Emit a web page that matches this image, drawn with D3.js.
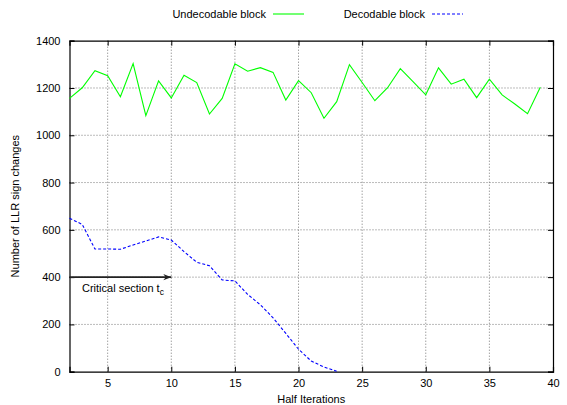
<!DOCTYPE html>
<html>
<head>
<meta charset="utf-8">
<script src="https://cdn.jsdelivr.net/npm/d3@7"></script>
<style>
  html, body { margin: 0; padding: 0; background: #fff; }
  svg { display: block; }
  text { font-family: "Liberation Sans", Arial, sans-serif; }
</style>
</head>
<body>
<svg id="chart" width="567" height="405"></svg>
<script>
const xValues = [2,3,4,5,6,7,8,9,10,11,12,13,14,15,16,17,18,19,20,21,22,23,24,25,26,27,28,29,30,31,32,33,34,35,36,37,38,39];
const undecodable = [1156,1201,1273,1252,1163,1303,1083,1230,1158,1254,1223,1090,1156,1302,1271,1286,1266,1149,1231,1180,1072,1142,1299,1223,1146,1201,1282,1227,1171,1285,1216,1237,1159,1237,1171,1132,1091,1203];
const decodableX = [2,3,4,5,6,7,8,9,10,11,12,13,14,15,16,17,18,19,20,21,22,23];
const decodable = [649,623,519,519,518,536,553,570,557,508,463,448,388,384,327,283,228,162,95,45,20,2];
const xTicks = [5,10,15,20,25,30,35,40];
const yTicks = [0,200,400,600,800,1000,1200,1400];
const seriesNames = ["Undecodable block", "Decodable block"];
const xLabel = "Half Iterations";
const yLabel = "Number of LLR sign changes";
const arrowFrom = 2, arrowTo = 10, arrowY = 400;

const W = 567, H = 405;
const m = {left: 69.5, right: 14, top: 40.7, bottom: 33.3};
const svg = d3.select("#chart");
const x = d3.scaleLinear().domain([2, 40]).range([m.left, W - m.right]);
const y = d3.scaleLinear().domain([0, 1400]).range([H - m.bottom, m.top]);

// grid
const g = svg.append("g");
g.selectAll(".gx").data(xTicks.filter(d => d < 40)).enter().append("line")
  .attr("x1", d => x(d)).attr("x2", d => x(d))
  .attr("y1", y(0)).attr("y2", y(1400))
  .attr("stroke", "#777").attr("stroke-width", 1).attr("stroke-dasharray", "1,2");
g.selectAll(".gy").data(yTicks.filter(d => d > 0 && d < 1400)).enter().append("line")
  .attr("x1", x(2)).attr("x2", x(40))
  .attr("y1", d => y(d)).attr("y2", d => y(d))
  .attr("stroke", "#777").attr("stroke-width", 1).attr("stroke-dasharray", "1,2");

// axes
const fontSize = 11;
const axB = svg.append("g").attr("transform", `translate(0,${y(0)})`)
  .call(d3.axisBottom(x).tickValues(xTicks).tickSize(-5).tickPadding(8).tickFormat(d3.format("d")));
const axT = svg.append("g").attr("transform", `translate(0,${y(1400)})`)
  .call(d3.axisTop(x).tickValues(xTicks).tickSize(-5).tickFormat(""));
const axL = svg.append("g").attr("transform", `translate(${x(2)},0)`)
  .call(d3.axisLeft(y).tickValues(yTicks).tickSize(-5).tickPadding(9).tickFormat(d3.format("d")));
const axR = svg.append("g").attr("transform", `translate(${x(40)},0)`)
  .call(d3.axisRight(y).tickValues(yTicks).tickSize(-5).tickFormat(""));
[axB, axT, axL, axR].forEach(a => {
  a.select(".domain").attr("stroke", "#000").attr("stroke-width", 1.2);
  a.selectAll(".tick line").attr("stroke", "#000").attr("stroke-width", 1);
  a.selectAll("text").attr("font-size", fontSize).attr("fill", "#000")
    .attr("font-family", '"Liberation Sans", Arial, sans-serif');
});

// lines
const lineGen = d3.line().x(d => x(d[0])).y(d => y(d[1]));
svg.append("path")
  .datum(xValues.map((v, i) => [v, undecodable[i]]))
  .attr("d", lineGen).attr("fill", "none")
  .attr("stroke", "#00ff00").attr("stroke-width", 1.1);
svg.append("path")
  .datum(decodableX.map((v, i) => [v, decodable[i]]))
  .attr("d", lineGen).attr("fill", "none")
  .attr("stroke", "#0000ff").attr("stroke-width", 1.1).attr("stroke-dasharray", "3,2");

// arrow
const defs = svg.append("defs");
defs.append("marker").attr("id", "ah").attr("viewBox", "0 0 10 10")
  .attr("refX", 10).attr("refY", 5).attr("markerWidth", 10).attr("markerHeight", 8)
  .attr("markerUnits", "userSpaceOnUse").attr("orient", "auto")
  .append("path").attr("d", "M0,1 L10,5 L0,9 L3,5 Z").attr("fill", "#222");
svg.append("line")
  .attr("x1", x(arrowFrom)).attr("x2", x(arrowTo))
  .attr("y1", y(arrowY)).attr("y2", y(arrowY))
  .attr("stroke", "#222").attr("stroke-width", 1.6).attr("marker-end", "url(#ah)");
const ann = svg.append("text").attr("x", 82).attr("y", y(arrowY) + 15)
  .attr("font-size", fontSize).attr("fill", "#000");
ann.append("tspan").text("Critical section t");
ann.append("tspan").attr("font-size", 8.5).attr("dy", 3).text("c");

// axis labels
svg.append("text").attr("x", x(21)).attr("y", 403)
  .attr("text-anchor", "middle").attr("font-size", fontSize).text(xLabel);
svg.append("text").attr("transform", `translate(19,${(y(0)+y(1400))/2}) rotate(-90)`)
  .attr("text-anchor", "middle").attr("font-size", fontSize).text(yLabel);

// legend
const leg = svg.append("g");
leg.append("text").attr("x", 266).attr("y", 18).attr("text-anchor", "end")
  .attr("font-size", fontSize).text(seriesNames[0]);
leg.append("line").attr("x1", 273).attr("x2", 304).attr("y1", 14).attr("y2", 14)
  .attr("stroke", "#00ff00").attr("stroke-width", 1.1);
leg.append("text").attr("x", 425).attr("y", 18).attr("text-anchor", "end")
  .attr("font-size", fontSize).text(seriesNames[1]);
leg.append("line").attr("x1", 432).attr("x2", 463).attr("y1", 14).attr("y2", 14)
  .attr("stroke", "#0000ff").attr("stroke-width", 1.1).attr("stroke-dasharray", "3,2");
</script>
</body>
</html>
